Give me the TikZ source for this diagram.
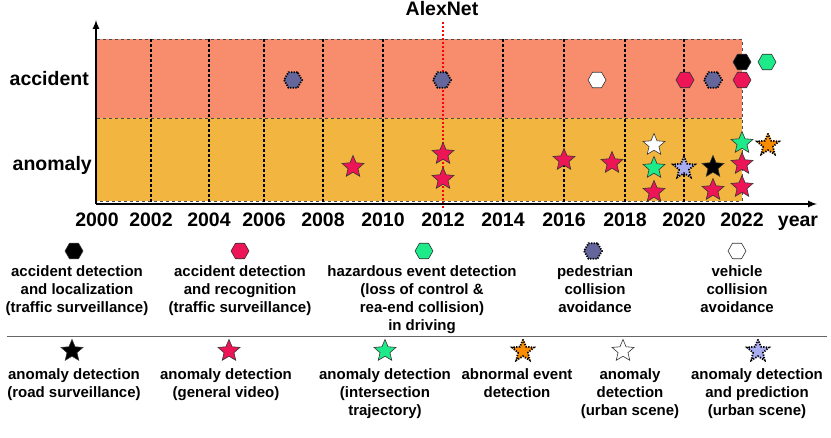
\documentclass[tikz,border=0pt]{standalone}
\usepackage{fontspec}
\setmainfont{Liberation Sans}
\usetikzlibrary{shapes.geometric}
\definecolor{accband}{HTML}{F78D6C}
\definecolor{anoband}{HTML}{F2B540}
\definecolor{redmark}{HTML}{EE1557}
\definecolor{greenmark}{HTML}{1DEB8A}
\definecolor{slatemark}{HTML}{65679C}
\definecolor{bluemark}{HTML}{A8ADF2}
\definecolor{orangemark}{HTML}{FA8C00}
\begin{document}
\begin{tikzpicture}[x=1pt, y=-1pt,
  hexmark/.style={regular polygon, regular polygon sides=6, minimum size=18pt, inner sep=0pt, draw=black!80, line width=0.6pt},
  starmark/.style={star, star points=5, star point ratio=2.2, minimum size=23pt, inner sep=0pt, draw=black!80, line width=0.6pt},
  dotborder/.style={draw=black, dash pattern=on 1.3pt off 1.3pt, line width=1.8pt},
  gridline/.style={densely dashed, line width=1.8pt},
  bandedge/.style={dashed, draw=black!70, line width=0.8pt},
  biglab/.style={font=\fontsize{19.5}{22}\selectfont\bfseries, inner sep=0pt},
  leglab/.style={font=\fontsize{15}{18}\selectfont\bfseries, align=center, anchor=north, inner sep=0pt}]
\useasboundingbox (0,0) rectangle (831,438);

% bands
\fill[accband] (97,39) rectangle (742,118);
\fill[anoband] (97,118) rectangle (742,201);
\draw[bandedge] (97,39) -- (742,39) -- (742,201) -- (97,201);
\draw[bandedge] (97,118) -- (742,118);

% year lines
\draw[gridline] (151,39) -- (151,204);
\draw[gridline] (209,39) -- (209,204);
\draw[gridline] (264,39) -- (264,204);
\draw[gridline] (323,39) -- (323,204);
\draw[gridline] (383,39) -- (383,204);
\draw[gridline] (503,39) -- (503,204);
\draw[gridline] (564,39) -- (564,204);
\draw[gridline] (625,39) -- (625,204);
\draw[gridline] (684,39) -- (684,204);
\draw[red, dash pattern=on 2pt off 2pt, line width=1.8pt] (443,22) -- (443,210);

% axes
\coordinate (origin) at (96,204);
\coordinate (ytop) at (96,20);
\coordinate (xend) at (817,204);
\draw[line width=2pt, -latex] (origin) -- (ytop);
\draw[line width=2pt, -latex] (origin) -- (xend);

\node[biglab, anchor=base] (alexnet) at (442,16) {AlexNet};
\node[biglab, anchor=base east] (acclab) at (89,86) {accident};
\node[biglab, anchor=base east] (anolab) at (92,171) {anomaly};
\node[biglab, anchor=base] (y2000) at (97,227) {2000};
\node[biglab, anchor=base] (y2002) at (151,227) {2002};
\node[biglab, anchor=base] (y2004) at (209,227) {2004};
\node[biglab, anchor=base] (y2006) at (264,227) {2006};
\node[biglab, anchor=base] (y2008) at (323,227) {2008};
\node[biglab, anchor=base] (y2010) at (383,227) {2010};
\node[biglab, anchor=base] (y2012) at (443,227) {2012};
\node[biglab, anchor=base] (y2014) at (503,227) {2014};
\node[biglab, anchor=base] (y2016) at (564,227) {2016};
\node[biglab, anchor=base] (y2018) at (625,227) {2018};
\node[biglab, anchor=base] (y2020) at (684,227) {2020};
\node[biglab, anchor=base] (y2022) at (742,227) {2022};
\node[biglab, anchor=base] (yearlab) at (798,227) {year};

% accident markers
\node[hexmark, dotborder, fill=slatemark] (acc2007) at (293,80) {};
\node[hexmark, dotborder, fill=slatemark] (acc2012) at (442,80) {};
\node[hexmark, fill=white] (acc2017) at (597,80) {};
\node[hexmark, fill=redmark] (acc2020) at (685,80) {};
\node[hexmark, dotborder, fill=slatemark] (acc2021) at (713,80) {};
\node[hexmark, fill=redmark] (acc2022a) at (742,80) {};
\node[hexmark, fill=black] (acc2022b) at (742,62) {};
\node[hexmark, fill=greenmark] (acc2023) at (767,62) {};

% anomaly markers
\node[starmark, fill=redmark] (ano2009) at (353,167) {};
\node[starmark, fill=redmark] (ano2012a) at (443,154) {};
\node[starmark, fill=redmark] (ano2012b) at (443,179) {};
\node[starmark, fill=redmark] (ano2016) at (564,160) {};
\node[starmark, fill=redmark] (ano2017) at (612,163) {};
\node[starmark, fill=white] (ano2019a) at (654,145) {};
\node[starmark, fill=greenmark] (ano2019b) at (654,168) {};
\node[starmark, fill=redmark] (ano2019c) at (654,192) {};
\node[starmark, dotborder, fill=bluemark] (ano2020) at (684,168) {};
\node[starmark, fill=black] (ano2021a) at (713,167) {};
\node[starmark, fill=redmark] (ano2021b) at (713,190) {};
\node[starmark, fill=greenmark] (ano2022a) at (742,143) {};
\node[starmark, fill=redmark] (ano2022b) at (742,164) {};
\node[starmark, fill=redmark] (ano2022c) at (742,187) {};
\node[starmark, dotborder, fill=orangemark] (ano2023) at (768,145) {};

% legend
\node[hexmark, fill=black] (lh1) at (74,251) {};
\node[hexmark, fill=redmark] (lh2) at (240,251) {};
\node[hexmark, fill=greenmark] (lh3) at (424,251) {};
\node[hexmark, dotborder, fill=slatemark] (lh4) at (593,251) {};
\node[hexmark, fill=white] (lh5) at (737,251) {};
\node[leglab] (lt1) at (77,265) {accident detection\\and localization\\(traffic surveillance)};
\node[leglab] (lt2) at (240,265) {accident detection\\and recognition\\(traffic surveillance)};
\node[leglab] (lt3) at (422,265) {hazardous event detection\\(loss of control \&\\rea-end collision)\\in driving};
\node[leglab] (lt4) at (595,265) {pedestrian\\collision\\avoidance};
\node[leglab] (lt5) at (737,265) {vehicle\\collision\\avoidance};

\draw[black!60, line width=1pt] (7,337) -- (827,337);

\node[starmark, fill=black] (ls1) at (72,351) {};
\node[starmark, fill=redmark] (ls2) at (229,351) {};
\node[starmark, fill=greenmark] (ls3) at (385,351) {};
\node[starmark, dotborder, fill=orangemark] (ls4) at (523,351) {};
\node[starmark, fill=white] (ls5) at (623,351) {};
\node[starmark, dotborder, fill=bluemark] (ls6) at (758,351) {};
\node[leglab] (st1) at (74,368) {anomaly detection\\(road surveillance)};
\node[leglab] (st2) at (226,368) {anomaly detection\\(general video)};
\node[leglab] (st3) at (385,368) {anomaly detection\\(intersection\\trajectory)};
\node[leglab] (st4) at (517,368) {abnormal event\\detection};
\node[leglab] (st5) at (630,368) {anomaly\\detection\\(urban scene)};
\node[leglab] (st6) at (757,368) {anomaly detection\\and prediction\\(urban scene)};
\end{tikzpicture}
\end{document}
